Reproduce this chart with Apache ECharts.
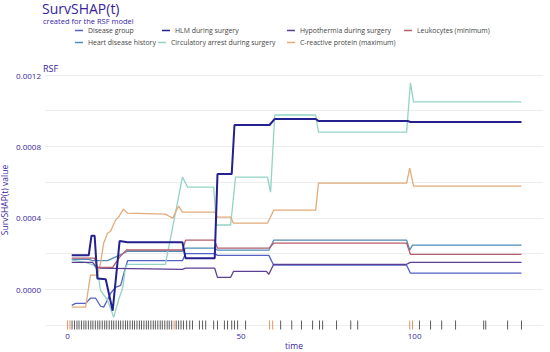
<!DOCTYPE html>
<html>
<head>
<meta charset="utf-8">
<script src="https://cdn.jsdelivr.net/npm/echarts@6/dist/echarts.min.js"></script>
<style>html,body{margin:0;padding:0;background:#fff}#c{width:550px;height:352px}</style>
</head>
<body>
<div id="c"></div>
<script>
// ---- data (time, SurvSHAP value) ----
const diseaseGroup = [[1.2,-0.00009],[2.3,-0.000079],[5.2,-0.000079],[6.6,-0.00005],[8.1,-0.00005],[9.5,-0.000095],[10.4,-0.0001],[11.5,-0.00006],[12.4,-0.000022],[13.8,0.000011],[15.3,0.000022],[16.7,0.000123],[17.3,0.00016],[33.1,0.00016],[34.0,0.0002],[42.4,0.0002],[43.2,0.00019],[58.0,0.00019],[59.4,0.000135],[97.7,0.000135],[98.8,0.00009],[130.8,0.00009]];
const heartDisease = [[1.2,0.000168],[6.1,0.000168],[7.2,0.00016],[11.5,0.00016],[15.5,0.000196],[17.3,0.000213],[33.1,0.000213],[34.0,0.00023],[42.4,0.00023],[43.2,0.000219],[58.0,0.000219],[59.4,0.000275],[97.7,0.000275],[98.6,0.00022],[99.4,0.000247],[130.8,0.000247]];
const hlm = [[1.2,0.00019],[6.1,0.00019],[6.9,0.0003],[7.8,0.0003],[8.6,0.00006],[11.0,0.000056],[13.0,-0.00012],[15.0,0.00027],[17.3,0.000264],[33.1,0.000264],[34.0,0.000174],[42.4,0.000174],[43.2,0.000645],[47.3,0.000645],[48.1,0.00092],[58.2,0.00092],[59.7,0.000954],[71.5,0.000954],[72.3,0.000942],[98.0,0.000942],[98.8,0.000937],[130.8,0.000937]];
const circArrest = [[1.2,0.000163],[5.2,0.000151],[7.5,0.000135],[8.6,0.000107],[9.5,-0.000006],[11.5,-0.00006],[13.3,-0.000157],[14.7,-0.00006],[15.9,0.00001],[16.7,0.000123],[17.3,0.00014],[28.2,0.00014],[33.1,0.000628],[34.6,0.000572],[42.1,0.000572],[42.9,0.00036],[47.0,0.00036],[48.4,0.000628],[57.6,0.000628],[58.5,0.000544],[59.7,0.000976],[71.5,0.000976],[72.3,0.00088],[97.7,0.00088],[98.8,0.001156],[99.7,0.00105],[130.8,0.00105]];
const hypothermia = [[1.2,0.000151],[7.2,0.000151],[8.6,0.000118],[33.1,0.000112],[34.0,0.000118],[42.4,0.000118],[43.2,0.000067],[47.0,0.000067],[47.8,0.0001],[57.3,0.0001],[58.0,0.000084],[59.4,0.00014],[97.7,0.00014],[98.8,0.000151],[130.8,0.000151]];
const crp = [[1.2,-0.0001],[5.2,-0.0001],[6.6,0.000079],[8.6,0.000079],[9.5,0.000146],[10.4,0.000258],[11.5,0.000314],[12.4,0.000325],[13.8,0.000387],[14.7,0.000404],[16.1,0.000449],[17.3,0.000426],[28.2,0.000421],[30.3,0.000398],[32.0,0.000466],[33.1,0.000432],[42.4,0.000432],[43.2,0.000404],[47.0,0.000404],[47.8,0.00037],[57.6,0.00037],[59.4,0.000443],[71.5,0.000443],[72.3,0.000595],[97.7,0.000595],[98.6,0.000679],[99.7,0.000578],[130.8,0.000578]];
const leukocytes = [[1.2,0.000174],[7.8,0.000174],[8.6,0.000123],[13.0,0.000123],[15.0,0.00018],[17.0,0.00022],[33.1,0.00022],[34.0,0.000275],[42.4,0.000275],[43.2,0.00023],[58.0,0.00023],[59.4,0.000258],[97.7,0.000258],[98.8,0.000196],[130.8,0.000196]];

const rugDark = [1.3,2,2.7,3.3,4,4.7,5.3,6,6.7,7.3,8,8.7,9.3,10,10.7,11.3,12,12.7,13.3,14,14.7,15.3,16,16.7,17.3,18,18.7,19.3,20,20.7,21.3,22,22.7,23.3,24,24.7,25.3,26,26.7,27.3,28,28.7,29.3,30,31.3,32,32.7,33.4,34.3,35.2,36.0,38.0,38.9,39.8,42.1,43.2,45.2,46.1,47.3,48.1,49.0,51.3,61.4,64.6,67.4,70.6,72.6,73.5,77.5,81.6,83.6,101.4,104.6,107.8,111.8,119.9,120.5,126.8,130.8];
const rugOrange = [0,0.7,30.7,58.2,59.1,98.6,99.4];
const rugLevel = -0.0002;

const names = ['Disease group','Heart disease history','HLM during surgery','Circulatory arrest during surgery','Hypothermia during surgery','C-reactive protein (maximum)','Leukocytes (minimum)'];
const seriesData = [diseaseGroup, heartDisease, hlm, circArrest, hypothermia, crp, leukocytes];
const colors = ['#5361c4','#4f8cb8','#24208f','#93d3c5','#5d3f92','#e2ab7a','#b55d6d'];
const widths = [1.3,1.3,2,1.3,1.3,1.3,1.3];
const yLabelValues = [0, 0.0004, 0.0008, 0.0012];
const xLabelValues = [0, 50, 100];

// legend placement [left, top]
const legendPos = [[75,27],[75,39],[162,27],[158,39],[287,27],[287,39],[404,27]];

const titleColor = '#371ea3';
const font = "'Open Sans', 'DejaVu Sans', sans-serif";

const chart = echarts.init(document.getElementById('c'), null, {renderer:'svg'});

const series = names.map((n,i)=>({
  name:n, type:'line', data:seriesData[i], showSymbol:false, symbol:'none',
  lineStyle:{color:colors[i], width:widths[i]}, itemStyle:{color:colors[i]},
  z: i===2 ? 5 : 3, animation:false
}));
series.push({
  type:'scatter', silent:true, symbol:'rect', symbolSize:[1,9], clip:false,
  data: rugDark.map(t=>[t,rugLevel]), itemStyle:{color:'#333'}, animation:false, z:2
});
series.push({
  type:'scatter', silent:true, symbol:'rect', symbolSize:[1,9], clip:false,
  data: rugOrange.map(t=>[t,rugLevel]), itemStyle:{color:'#e07b3c'}, animation:false, z:2
});

chart.setOption({
  animation:false,
  textStyle:{fontFamily:font},
  title:[
    {text:'SurvSHAP(t)', left:42, top:1, padding:0, textStyle:{fontSize:14, lineHeight:14, fontWeight:'normal', color:titleColor, fontFamily:font}},
    {text:'created for the RSF model', left:43, top:17, padding:0, textStyle:{fontSize:7.5, lineHeight:8, fontWeight:'normal', color:titleColor, fontFamily:font}},
    {text:'RSF', left:43, top:63, padding:0, textStyle:{fontSize:9, lineHeight:10, fontWeight:'normal', color:titleColor, fontFamily:font}}
  ],
  legend: names.map((n,i)=>({
    data:[n], left:legendPos[i][0], top:legendPos[i][1], padding:0, itemGap:0,
    icon:'rect', itemWidth:8, itemHeight:1.5, selectedMode:false,
    textStyle:{fontSize:6.9, color:'#444', fontFamily:font}
  })),
  grid:{left:45, right:7, top:75, bottom:27, containLabel:false, outerBoundsMode:'none'},
  xAxis:{
    type:'value', min:-6.5, max:137,
    name:'time', nameLocation:'middle', nameGap:15, nameMoveOverlap:false,
    nameTextStyle:{fontSize:8.5, color:titleColor, lineHeight:10},
    axisLine:{show:false}, axisTick:{show:false}, splitLine:{show:false},
    axisLabel:{customValues:xLabelValues, fontSize:8, color:titleColor, margin:6}
  },
  yAxis:{
    type:'value', min:-0.0002, max:0.0012, interval:0.0002,
    name:'SurvSHAP(t) value', nameLocation:'middle', nameGap:36, nameMoveOverlap:false,
    nameTextStyle:{fontSize:8.5, color:titleColor, lineHeight:10},
    axisLine:{show:false}, axisTick:{show:false},
    splitLine:{lineStyle:{color:'#ececec', width:1}},
    axisLabel:{fontSize:8, color:titleColor, margin:4,
      formatter:function(v){
        for (const lv of yLabelValues){ if (Math.abs(v-lv) < 1e-9) return lv.toFixed(4); }
        return '';
      }}
  },
  series:series
});
</script>
</body>
</html>
